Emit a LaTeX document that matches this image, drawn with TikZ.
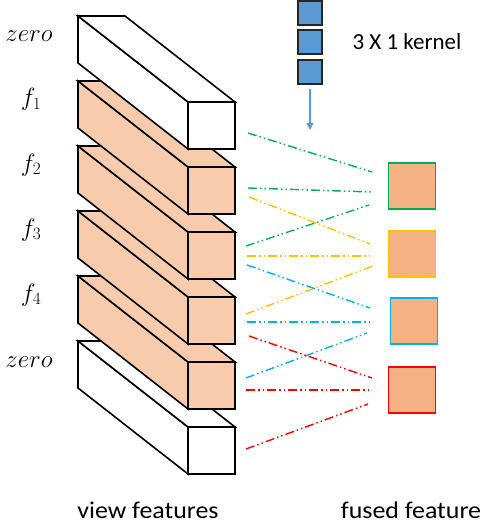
\documentclass[tikz,border=0pt]{standalone}
\usepackage{fontspec}
\setmainfont{Carlito}
\newfontfamily\capfont[FakeStretch=1.08]{Carlito}
\usetikzlibrary{arrows.meta}
\definecolor{peach}{HTML}{F8CBAD}
\definecolor{fusedfill}{HTML}{F4B183}
\definecolor{kblue}{HTML}{5B9BD5}
\definecolor{cgreen}{HTML}{00B050}
\definecolor{cyellow}{HTML}{FFC000}
\definecolor{cblue}{HTML}{00B0F0}
\definecolor{cred}{HTML}{FF0000}
\begin{document}
\begin{tikzpicture}[x=1pt,y=-1pt,
  boxline/.style={draw=black,line width=1.6pt,line join=miter},
  ddot/.style={line width=1.4pt,dash pattern={on 9pt off 3pt on 1.5pt off 3pt on 1.5pt off 3pt}},
  kernelsq/.style={draw=black!85,fill=kblue,line width=1.4pt,minimum size=24pt,inner sep=0pt},
  fusedsq/.style={fill=fusedfill,line width=1.6pt,minimum width=47pt,minimum height=46pt,inner sep=0pt},
  lbl/.style={font=\fontsize{24}{26}\selectfont,anchor=base},
  ktxt/.style={font=\fontsize{23}{26}\selectfont},
  captxt/.style={font=\capfont\fontsize{24}{26}\selectfont,anchor=base,inner sep=0pt,text depth=0pt}]
\useasboundingbox (0,0) rectangle (484,524);
% cuboids, bottom first
\foreach \t/\c in {341/white,276/peach,211/peach,146/peach,81/peach,16/white}{
  \path[boxline,fill=\c] (78,\t) -- (188,\t+86) -- (188,\t+133) -- (78,\t+47) -- cycle;
  \path[boxline,fill=\c] (78,\t) -- (125,\t) -- (235,\t+86) -- (188,\t+86) -- cycle;
  \path[boxline,fill=\c] (188,\t+86) rectangle (235,\t+133);
}
% labels
\node[lbl] (l0) at (29,42) {$zero$};
\node[lbl] (l1) at (31,106) {$f_1$};
\node[lbl] (l2) at (31,171) {$f_2$};
\node[lbl] (l3) at (31,236) {$f_3$};
\node[lbl] (l4) at (31,301) {$f_4$};
\node[lbl] (l5) at (29,367) {$zero$};
% kernel
\node[kernelsq] (k1) at (310,13) {};
\node[kernelsq] (k2) at (310,42) {};
\node[kernelsq] (k3) at (310,72) {};
\node[ktxt,anchor=center] (kt) at (407,42) {3 X 1 kernel};
\coordinate (ka) at (310,130);
\draw[kblue,line width=1.3pt,-{Triangle[length=7pt,width=7pt]}] ([yshift=-4pt]k3.south) -- (ka);
% fused squares
\node[fusedsq,draw=cgreen] (g) at (412,186) {};
\node[fusedsq,draw=cyellow] (y) at (412,254) {};
\node[fusedsq,draw=cblue] (b) at (414,321) {};
\node[fusedsq,draw=cred] (r) at (412,390) {};
% endpoints
\coordinate (gs1) at (248,133); \coordinate (ge1) at (372,172);
\coordinate (gs2) at (248,188); \coordinate (ge2) at (372,192);
\coordinate (gs3) at (246,246); \coordinate (ge3) at (369,205);
\coordinate (ys1) at (249,197); \coordinate (ye1) at (370,244);
\coordinate (ys2) at (247,256); \coordinate (ye2) at (372,256);
\coordinate (ys3) at (246,314); \coordinate (ye3) at (373,266);
\coordinate (bs1) at (247,265); \coordinate (be1) at (370,308);
\coordinate (bs2) at (247,322); \coordinate (be2) at (369,322);
\coordinate (bs3) at (246,378); \coordinate (be3) at (367,333);
\coordinate (rs1) at (249,336); \coordinate (re1) at (372,378);
\coordinate (rs2) at (246,390); \coordinate (re2) at (370,390);
\coordinate (rs3) at (246,449); \coordinate (re3) at (368,404);
\draw[ddot,cgreen] (gs1) -- (ge1);
\draw[ddot,cgreen] (gs2) -- (ge2);
\draw[ddot,cgreen] (gs3) -- (ge3);
\draw[ddot,cyellow] (ys1) -- (ye1);
\draw[ddot,cyellow] (ys2) -- (ye2);
\draw[ddot,cyellow] (ys3) -- (ye3);
\draw[ddot,cblue] (bs1) -- (be1);
\draw[ddot,cblue] (bs2) -- (be2);
\draw[ddot,cblue] (bs3) -- (be3);
\draw[ddot,cred] (rs1) -- (re1);
\draw[ddot,cred] (rs2) -- (re2);
\draw[ddot,cred] (rs3) -- (re3);
% captions
\node[captxt] (vf) at (148,518) {view features};
\node[captxt] (ff) at (411,518) {fused feature};
\end{tikzpicture}
\end{document}
